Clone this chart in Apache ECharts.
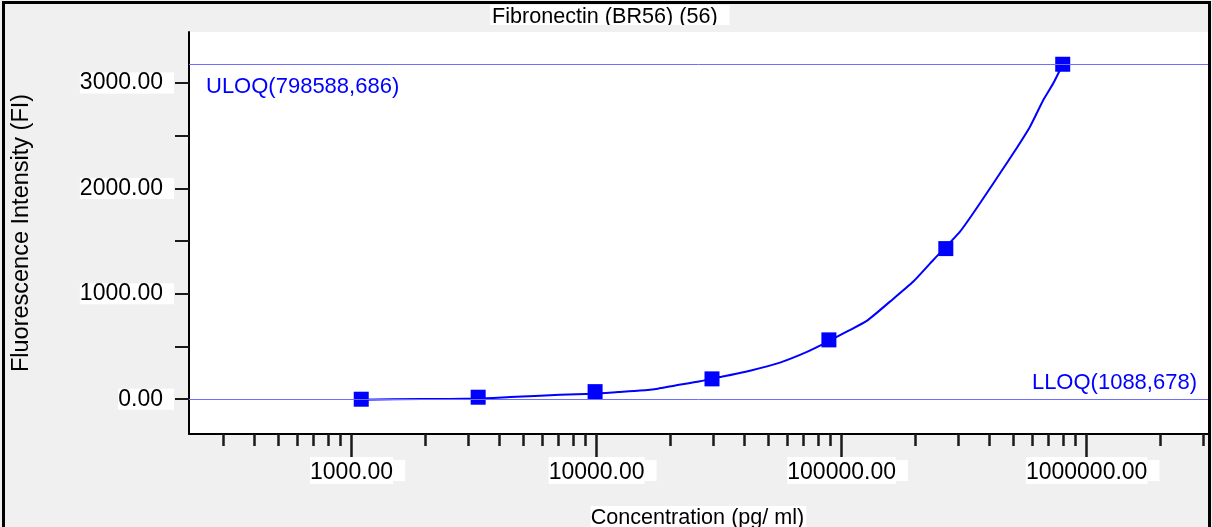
<!DOCTYPE html>
<html>
<head>
<meta charset="utf-8">
<script src="https://cdn.jsdelivr.net/npm/echarts@6/dist/echarts.min.js"></script>
<style>
  html, body { margin: 0; padding: 0; background: #f0f0f0; }
  #chart { width: 1212px; height: 527px; }
</style>
</head>
<body>
<div id="chart"></div>
<script>
// Standard curve for one analyte: measured standards and fitted curve
const titleText = 'Fibronectin (BR56) (56)';
const xName = 'Concentration (pg/ ml)';
const yName = 'Fluorescence Intensity (FI)';

// Standards (3-fold dilution series), pg/ml and FI
const standardConc = [1095, 3286, 9859, 29577, 88732, 266196, 798588];
const standardFI = [0, 19, 72, 193, 563, 1429, 3178];

// Fitted curve traced along its length
const curveConc = [1092, 1937, 3280, 4430, 7087, 9755, 12220, 15030, 17800, 20490, 26420, 31880,
  42270, 56030, 67610, 77850, 104900, 126600, 157500, 196100, 236600, 304200, 367000, 429500,
  501900, 587200, 665500, 730900, 798588];
const curveFI = [-4, 1, 6, 20, 42, 53, 68, 82, 100, 126, 170, 210,
  271, 347, 420, 484, 641, 743, 926, 1116, 1321, 1590, 1859, 2096,
  2333, 2586, 2839, 2997, 3178];

// Quantification limits
const limitNames = ['ULOQ(798588,686)', 'LLOQ(1088,678)'];
const limitFI = [3178, 0];

// Axis ranges and ticks
const xRange = [217, 3128000];
const yRange = [-330, 3484];
const xMajorTicks = [1000, 10000, 100000, 1000000];
const xMinorTicks = [300, 400, 500, 600, 700, 800, 900,
  2000, 3000, 4000, 5000, 6000, 7000, 8000, 9000,
  20000, 30000, 40000, 50000, 60000, 70000, 80000, 90000,
  200000, 300000, 400000, 500000, 600000, 700000, 800000, 900000,
  2000000, 3000000];
const yMajorTicks = [0, 1000, 2000, 3000];
const yMinorTicks = [0, 500, 1000, 1500, 2000, 2500, 3000];

const FONT = 'Liberation Sans, Arial, Helvetica, sans-serif';
const LIMIT_COLOR = '#6f6fff';
const zip = (a, b) => a.map((v, i) => [v, b[i]]);

const chart = echarts.init(document.getElementById('chart'), null, { renderer: 'canvas' });

chart.setOption({
  animation: false,
  backgroundColor: '#f0f0f0',
  title: {
    text: titleText,
    left: 490,
    top: 5,
    padding: [0, 12, 0, 2],
    backgroundColor: '#fff',
    textStyle: { fontSize: 21.6, fontWeight: 'normal', color: '#000', lineHeight: 24, fontFamily: FONT }
  },
  grid: {
    left: 189, right: 4, top: 32, bottom: 93,
    outerBoundsMode: 'none',
    containLabel: false,
    show: true, backgroundColor: '#fff', borderWidth: 0
  },
  xAxis: [
    {
      type: 'log', logBase: 10, min: xRange[0], max: xRange[1], position: 'bottom',
      axisLine: { show: true, onZero: false, lineStyle: { color: '#000', width: 2 } },
      axisTick: { show: true, customValues: xMinorTicks, length: 12, lineStyle: { color: '#1a1a1a', width: 2.5 } },
      axisLabel: { show: false },
      splitLine: { show: false }
    },
    {
      type: 'log', logBase: 10, min: xRange[0], max: xRange[1], position: 'bottom',
      axisLine: { show: false, onZero: false },
      axisTick: { show: true, customValues: xMajorTicks, length: 23, lineStyle: { color: '#1a1a1a', width: 2.5 } },
      axisLabel: {
        customValues: xMajorTicks,
        margin: 26,
        formatter: v => '{g|}{t|' + Number(v).toFixed(2) + '}{p|}',
        rich: {
          g: { width: 12, height: 21, lineHeight: 21 },
          t: { backgroundColor: '#fff', fontSize: 23, lineHeight: 17, padding: [4, 0, 0, 0], color: '#000', fontFamily: FONT },
          p: { width: 12, height: 21, lineHeight: 21, backgroundColor: '#fff' }
        }
      },
      splitLine: { show: false },
      name: xName,
      nameLocation: 'middle',
      nameGap: 72,
      nameTextStyle: {
        fontSize: 21.6, color: '#000', lineHeight: 24, fontFamily: FONT,
        backgroundColor: '#fff', padding: [0, 2, 0, 0]
      }
    }
  ],
  yAxis: {
    type: 'value', min: yRange[0], max: yRange[1],
    axisLine: { show: true, onZero: false, lineStyle: { color: '#000', width: 2 } },
    axisTick: { show: true, customValues: yMinorTicks, length: 14, lineStyle: { color: '#1a1a1a', width: 2 } },
    axisLabel: {
      customValues: yMajorTicks,
      formatter: v => Number(v).toFixed(2),
      margin: 15,
      backgroundColor: '#fff',
      padding: [4, 11, 0, 0],
      fontSize: 23, lineHeight: 17, color: '#000', fontFamily: FONT
    },
    splitLine: { show: false },
    name: yName,
    nameLocation: 'middle',
    nameGap: 155,
    nameTextStyle: { fontSize: 23.5, color: '#000', lineHeight: 24, fontFamily: FONT }
  },
  series: [
    {
      name: 'Fit',
      type: 'line',
      xAxisIndex: 0,
      data: zip(curveConc, curveFI),
      showSymbol: false,
      smooth: 0.2,
      lineStyle: { color: '#0000ff', width: 2 },
      z: 3
    },
    {
      name: 'Standards',
      type: 'scatter',
      xAxisIndex: 0,
      data: zip(standardConc, standardFI),
      symbol: 'rect',
      symbolSize: 15,
      itemStyle: { color: '#0000ff', opacity: 1 },
      z: 4,
      markLine: {
        silent: true,
        symbol: ['none', 'none'],
        animation: false,
        itemStyle: { color: LIMIT_COLOR },
        lineStyle: { color: LIMIT_COLOR, type: 'solid', width: 1, opacity: 1 },
        label: { color: '#0000ff', fontSize: 22, fontFamily: FONT },
        data: [
          {
            yAxis: limitFI[0],
            lineStyle: { color: LIMIT_COLOR },
            label: { formatter: limitNames[0], position: 'insideStartBottom', distance: [17, 12] }
          },
          {
            yAxis: limitFI[1],
            lineStyle: { color: LIMIT_COLOR },
            label: { formatter: limitNames[1], position: 'insideEndTop', distance: [11, 5] }
          }
        ]
      }
    }
  ],
  graphic: [
    {
      type: 'rect', z: 100, silent: true,
      shape: { x: 480, y: 25, width: 270, height: 7 },
      style: { fill: '#f0f0f0' }
    },
    {
      type: 'rect', z: 100, silent: true,
      shape: { x: 3.5, y: 2.5, width: 1206, height: 600 },
      style: { fill: null, stroke: '#000', lineWidth: 3 }
    }
  ]
});
</script>
</body>
</html>
